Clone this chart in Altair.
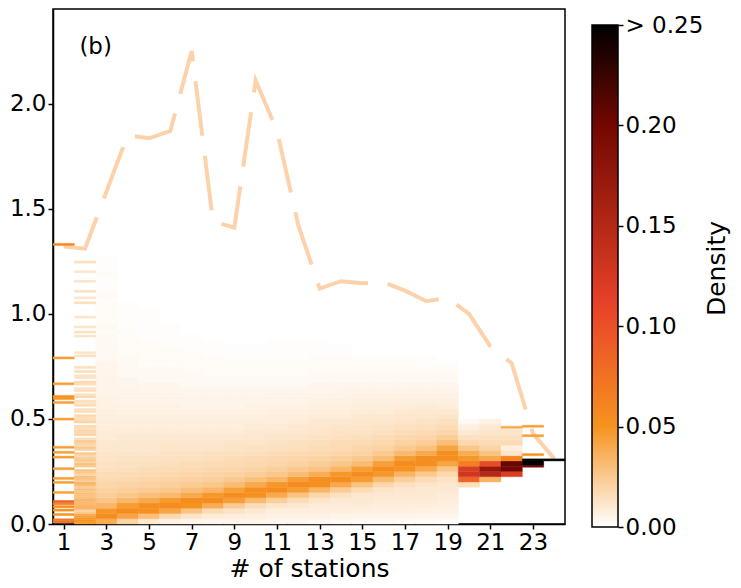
import altair as alt
import pandas as pd

FONT = "DejaVu Sans"

# dashed upper envelope, one value per station count (1..24)
stations = list(range(1, 25))
max_value = [1.32, 1.31, 1.58, 1.85, 1.835, 1.87, 2.25, 1.44, 1.41, 2.11, 1.87, 1.42,
             1.12, 1.155, 1.145, 1.15, 1.11, 1.06, 1.075, 1.00, 0.845, 0.765, 0.43, 0.31]

# dense columns: density x1000 in bins of 0.025 starting at 0
BIN = 0.025
dens = {
    3: [38, 55, 48, 34, 27, 23, 21, 19, 17, 16, 14, 13, 12, 12, 11, 10, 9, 9, 8, 8, 7, 7, 6, 6, 5,
        5, 5, 5, 4, 4, 4, 3, 3, 3, 3, 3, 2, 3, 2, 2, 2, 2, 1, 2, 1, 1, 1, 2, 1, 1, 1],
    4: [20, 42, 55, 46, 33, 26, 22, 20, 18, 16, 15, 14, 13, 12, 11, 10, 10, 9, 8, 8, 7, 6, 6, 5, 5,
        5, 4, 4, 3, 3, 3, 3, 2, 2, 2, 2, 2, 1, 1, 1, 1, 1],
    5: [10, 30, 52, 54, 40, 30, 24, 21, 19, 17, 16, 14, 13, 12, 11, 10, 10, 9, 8, 8, 7, 6, 6, 5, 5,
        4, 4, 3, 3, 3, 2, 2, 2, 2, 2, 1, 1, 1, 1, 1, 1],
    6: [6, 18, 42, 55, 47, 33, 26, 22, 20, 18, 16, 15, 14, 13, 12, 11, 10, 9, 8, 8, 7, 6, 6, 5, 5,
        4, 4, 3, 3, 3, 2, 2, 2, 2, 1, 1, 1, 1],
    7: [4, 12, 28, 50, 54, 40, 30, 24, 21, 19, 17, 16, 14, 13, 12, 11, 10, 9, 8, 8, 7, 6, 5, 5, 4,
        4, 3, 3, 3, 2, 2, 2, 2, 1, 1, 1],
    8: [4, 9, 17, 38, 55, 48, 34, 26, 22, 20, 18, 16, 15, 14, 12, 11, 10, 9, 8, 8, 7, 6, 5, 5, 4,
        4, 3, 3, 2, 2, 2, 2, 1, 1, 1],
    9: [5, 8, 13, 24, 45, 55, 44, 31, 25, 21, 19, 17, 16, 14, 13, 12, 10, 9, 8, 8, 7, 6, 5, 5, 4,
        4, 3, 3, 2, 2, 2, 1, 1, 1],
    10: [5, 7, 10, 16, 32, 52, 54, 40, 29, 23, 20, 18, 17, 15, 14, 12, 11, 10, 9, 8, 7, 6, 6, 5, 4,
         4, 3, 3, 2, 2, 2, 1, 1, 1],
    11: [4, 6, 8, 12, 22, 40, 55, 48, 34, 26, 22, 19, 18, 16, 14, 13, 12, 10, 9, 8, 8, 7, 6, 5, 5,
         4, 3, 3, 2, 2, 2, 1, 1, 1, 1],
    12: [4, 6, 8, 10, 16, 28, 46, 55, 45, 31, 25, 21, 19, 17, 15, 14, 12, 11, 10, 9, 8, 7, 6, 5, 5,
         4, 3, 3, 2, 2, 2, 1, 1, 1, 1],
    13: [3, 6, 8, 9, 12, 19, 34, 52, 53, 38, 28, 23, 20, 18, 16, 15, 13, 12, 11, 10, 9, 8, 7, 6, 5,
         4, 4, 3, 3, 2, 2, 2, 1, 1, 1],
    14: [3, 5, 8, 9, 10, 14, 24, 40, 55, 48, 34, 26, 22, 19, 17, 16, 14, 13, 12, 10, 9, 8, 7, 6, 5,
         5, 4, 3, 3, 2, 2, 2, 1, 1],
    15: [3, 5, 7, 9, 10, 11, 16, 28, 46, 55, 45, 31, 25, 21, 19, 17, 15, 13, 12, 11, 10, 9, 8, 7, 6,
         5, 4, 3, 3, 2, 2, 1],
    16: [3, 5, 7, 8, 9, 10, 12, 19, 32, 48, 55, 44, 31, 25, 21, 18, 16, 14, 13, 11, 10, 9, 8, 7, 6,
         5, 4, 3, 3, 2, 2, 1],
    17: [2, 5, 7, 8, 9, 10, 11, 14, 22, 35, 50, 55, 46, 32, 25, 21, 18, 16, 14, 12, 11, 10, 8, 7, 6,
         5, 4, 3, 3, 2, 2, 1],
    18: [2, 4, 6, 8, 9, 10, 10, 12, 16, 25, 40, 54, 54, 40, 29, 23, 19, 17, 15, 13, 11, 10, 9, 7, 6,
         5, 4, 3, 3, 2, 1, 1],
    19: [1, 4, 6, 7, 8, 9, 10, 11, 13, 18, 27, 42, 54, 54, 42, 30, 23, 19, 16, 14, 12, 10, 8, 7, 6,
         5, 4, 3, 3, 2, 1],
    20: [0, 0, 0, 0, 0, 0, 0, 15, 85, 130, 120, 65, 48, 38, 26, 18, 14, 10, 7, 3],
    21: [0, 0, 0, 0, 0, 0, 0, 0, 35, 150, 175, 105, 40, 28, 20, 16, 14, 12, 10, 6],
    22: [0, 0, 0, 0, 0, 0, 0, 0, 0, 120, 200, 205, 60, 12, 8, 16, 14, 12],
}

# sparse columns: stripe centres and density x1000, stripe height 0.01
STRIPE = 0.01
col1_y = [0.01, 0.02, 0.045, 0.066, 0.082, 0.096, 0.107, 0.15, 0.198, 0.217, 0.263, 0.318,
          0.341, 0.365, 0.499, 0.578, 0.597, 0.607, 0.667, 0.79, 1.33]
col1_d = [75, 70, 50, 50, 55, 60, 90, 45, 45, 45, 45, 45, 45, 45, 45, 45, 50, 50, 45, 45, 60]

# column 2: contiguous 0.01 stripes from 0 to 0.75, then a few isolated ones
col2_block = [45, 50, 48, 45, 40, 25, 20, 35, 35, 32, 30, 34, 30, 28, 30, 26, 30, 22,
              30, 35, 22, 28, 30, 18, 25, 28, 0, 24, 28, 20, 26, 22, 18, 25, 0, 22, 26, 18,
              20, 24, 15, 0, 22, 18, 20, 15, 18, 0, 20, 16,
              15, 18, 0, 16, 14, 0, 18, 12, 15, 0, 18, 14, 0, 16, 12, 0, 15, 18, 0, 12, 14,
              0, 16, 0, 15]
col2_top_y = [0.80, 0.815, 0.894, 0.913, 0.937, 0.984, 1.052, 1.076, 1.107, 1.155, 1.20, 1.246]
col2_top_d = [14, 12, 12, 14, 12, 12, 15, 12, 14, 12, 12, 15]

col22_y = [0.46]
col22_d = [40]

col23_y = [0.275, 0.285, 0.295, 0.305, 0.33, 0.42, 0.465]
col23_d = [200, 300, 300, 280, 50, 45, 45]

col24_y = [0.305]
col24_d = [300]

col2_y = [STRIPE * (k + 0.5) for k in range(len(col2_block))] + col2_top_y
col2_d = col2_block + col2_top_d

stripes = {1: (col1_y, col1_d), 2: (col2_y, col2_d), 22: (col22_y, col22_d),
           23: (col23_y, col23_d), 24: (col24_y, col24_d)}

rows = []
for n, vals in dens.items():
    for k, v in enumerate(vals):
        if v > 0:
            rows.append(dict(x0=n - 0.5, x1=n + 0.5, y0=k * BIN, y1=(k + 1) * BIN, density=v / 1000))
for n, (ys, ds) in stripes.items():
    for y, d in zip(ys, ds):
        if d > 0:
            rows.append(dict(x0=n - 0.5, x1=n + 0.5, y0=y - STRIPE / 2, y1=y + STRIPE / 2,
                             density=d / 1000))
cells = pd.DataFrame(rows)

env = pd.DataFrame({"station": stations, "value": max_value})
label = pd.DataFrame({"x": [2.5], "y": [2.27], "text": ["(b)"]})

# colour map: white -> orange -> red -> dark red -> black
cmap_dom = [0.0, 0.05, 0.11, 0.2, 0.25]
cmap_col = ["#ffffff", "#f6931f", "#e84329", "#730700", "#000000"]
cscale = alt.Scale(domain=cmap_dom, range=cmap_col, interpolate="rgb", clamp=True)

xscale = alt.Scale(domain=[0.5, 24.5], nice=False, zero=False)
yscale = alt.Scale(domain=[0, 2.45], nice=False, zero=True)

H = 515

line = alt.Chart(env).mark_line(
    color="#fdd2ab", strokeWidth=4, strokeDash=[55, 20]
).encode(
    x=alt.X("station:Q", scale=xscale,
            axis=alt.Axis(values=stations, title="# of stations", titlePadding=2,
                          labelExpr="datum.value % 2 == 1 ? datum.label : ''")),
    y=alt.Y("value:Q", scale=yscale,
            axis=alt.Axis(values=[0, 0.5, 1.0, 1.5, 2.0], format=".1f", title=None)),
)

heat = alt.Chart(cells).mark_rect(strokeWidth=0.4).encode(
    x="x0:Q", x2="x1:Q", y="y0:Q", y2="y1:Q",
    color=alt.Color("density:Q", scale=cscale, legend=None),
    stroke=alt.Stroke("density:Q", scale=cscale, legend=None),
)

txt = alt.Chart(label).mark_text(font=FONT, fontSize=23, color="black").encode(
    x="x:Q", y="y:Q", text="text:N"
)

main = alt.layer(line, heat, txt).properties(width=512, height=H)

# colour bar: one gradient rect, its top kept low enough that the top label fits
grad = alt.LinearGradient(
    gradient="linear",
    stops=[alt.GradientStop(offset=v / 0.25, color=c) for v, c in zip(cmap_dom, cmap_col)],
    x1=0, x2=0, y1=1, y2=0,
)
CB_H = H + 3
CB_LEN = H - 13
cb_top = 0.25 * CB_H / CB_LEN
cbar = alt.Chart(pd.DataFrame({"lo": [0.0], "hi": [0.25]})).mark_rect(
    color=grad, stroke="black", strokeWidth=1.5
).encode(
    y=alt.Y("lo:Q", scale=alt.Scale(domain=[0, cb_top], nice=False),
            axis=alt.Axis(orient="right", values=[0, 0.05, 0.1, 0.15, 0.2, 0.25], domain=False,
                          labelExpr="datum.value >= 0.25 ? '> 0.25' : format(datum.value, '.2f')",
                          title="Density", titleAngle=270, titleBaseline="top", titlePadding=2)),
    y2="hi:Q",
).properties(width=26, height=CB_H, view=alt.ViewBackground(stroke="transparent"))

chart = alt.hconcat(main, cbar, spacing=24).properties(
    padding={"left": 0, "top": 0, "right": 0, "bottom": 0}
).configure_view(
    stroke="black", strokeWidth=1.5
).configure_axis(
    labelFont=FONT, labelFontSize=23, labelColor="black",
    titleFont=FONT, titleFontSize=25, titleFontWeight="normal", titleColor="black",
    tickColor="black", tickSize=5, tickWidth=1.5, domainColor="black", domainWidth=1.5,
    labelPadding=2, grid=False, zindex=1,
)

chart.save("out.html", embed_options={"renderer": "svg", "actions": False})
